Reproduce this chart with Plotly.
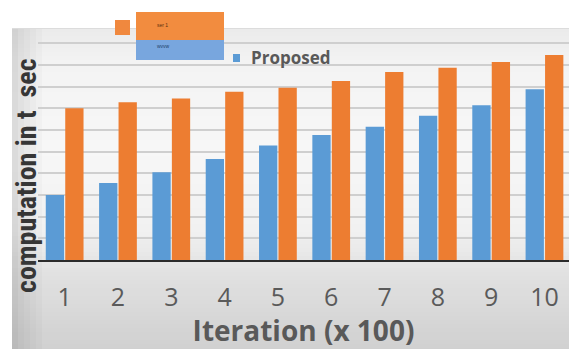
import plotly.graph_objects as go

# Iteration groups (x 100) and computation time per method
iterations = ["1", "2", "3", "4", "5", "6", "7", "8", "9", "10"]
proposed = [3.0, 3.55, 4.05, 4.66, 5.29, 5.77, 6.15, 6.66, 7.14, 7.88]
existing = [7.0, 7.28, 7.46, 7.77, 7.95, 8.26, 8.68, 8.88, 9.14, 9.46]

W, H = 569, 349
L, R, T, B = 38, 0, 28, 89
PW, PH = W - L - R, H - T - B


def px_x(x):
    return (x - L) / PW


def px_y(y):
    return (H - B - y) / PH


def lerp_color(stops, y):
    for (y0, c0), (y1, c1) in zip(stops, stops[1:]):
        if y0 <= y <= y1:
            t = (y - y0) / (y1 - y0)
            return tuple(round(a + (b - a) * t) for a, b in zip(c0, c1))
    return stops[-1][1]


fig = go.Figure()

fig.add_trace(go.Bar(x=iterations, y=proposed, name="Proposed",
                     marker=dict(color="#5B9BD5", line=dict(width=0))))
fig.add_trace(go.Bar(x=iterations, y=existing, name="ser 1",
                     marker=dict(color="#ED7D31", line=dict(width=0))))

shapes = []
# soft vertical gradient behind the chart
stops = [(28, (234, 234, 234)), (60, (243, 243, 243)), (150, (247, 247, 247)),
         (230, (241, 241, 241)), (270, (226, 226, 226)), (349, (208, 208, 208))]
step = 4
y = 28
while y < H:
    c = lerp_color(stops, y + step / 2)
    shapes.append(dict(type="rect", xref="paper", yref="paper",
                       x0=px_x(12), x1=px_x(W), y0=px_y(min(y + step, H)), y1=px_y(y),
                       fillcolor="rgb(%d,%d,%d)" % c, line=dict(width=0), layer="below"))
    y += step
# darker left edge
for i, a in enumerate([0.11, 0.08, 0.06, 0.04, 0.02]):
    shapes.append(dict(type="rect", xref="paper", yref="paper",
                       x0=px_x(12 + i * 6), x1=px_x(18 + i * 6), y0=px_y(H), y1=px_y(28),
                       fillcolor="rgba(0,0,0,%g)" % a, line=dict(width=0), layer="below"))
# top edge of the chart panel
shapes.append(dict(type="line", xref="paper", yref="paper",
                   x0=px_x(12), x1=px_x(W), y0=px_y(28.5), y1=px_y(28.5),
                   line=dict(color="#dcdcdc", width=1), layer="below"))

# legend blocks
shapes += [
    dict(type="rect", xref="paper", yref="paper", x0=px_x(115), x1=px_x(130),
         y0=px_y(35), y1=px_y(20), fillcolor="#F0883E", line=dict(width=0)),
    dict(type="rect", xref="paper", yref="paper", x0=px_x(136), x1=px_x(224),
         y0=px_y(40), y1=px_y(12), fillcolor="#F28C3F", line=dict(width=0)),
    dict(type="rect", xref="paper", yref="paper", x0=px_x(136), x1=px_x(224),
         y0=px_y(60), y1=px_y(40), fillcolor="#78A6DE", line=dict(width=0)),
    dict(type="rect", xref="paper", yref="paper", x0=px_x(233), x1=px_x(240),
         y0=px_y(62), y1=px_y(54), fillcolor="#5B9BD5", line=dict(width=0)),
]

annotations = [
    dict(text="computation in t\u00a0\u00a0sec", textangle=-90, xref="paper", yref="paper",
         x=px_x(26), y=px_y(176), showarrow=False, xanchor="center", yanchor="middle",
         font=dict(family="Liberation Sans Narrow, Roboto Condensed, Lato", size=28,
                   color="#363636", weight="bold")),
    dict(text="ser 1", xref="paper", yref="paper", x=px_x(155), y=px_y(25),
         showarrow=False, xanchor="left", yanchor="middle",
         font=dict(family="Liberation Sans", size=5, color="#5a3010")),
    dict(text="wvvw", xref="paper", yref="paper", x=px_x(155), y=px_y(46),
         showarrow=False, xanchor="left", yanchor="middle",
         font=dict(family="Liberation Sans", size=5, color="#20406a")),
    dict(text="Proposed", xref="paper", yref="paper", x=px_x(249), y=px_y(57.5),
         showarrow=False, xanchor="left", yanchor="middle",
         font=dict(family="Open Sans", size=17, color="#595959", weight="bold")),
]

fig.update_layout(
    width=W, height=H,
    margin=dict(l=L, r=R, t=T, b=B, pad=0),
    paper_bgcolor="white",
    plot_bgcolor="rgba(0,0,0,0)",
    showlegend=False,
    barmode="group",
    bargap=0.27,
    bargroupgap=0.06,
    shapes=shapes,
    annotations=annotations,
    xaxis=dict(
        range=[-0.5, 9.46],
        showgrid=False,
        showline=True, linecolor="#2b2b2b", linewidth=2,
        ticks="", ticklabelstandoff=14,
        tickfont=dict(family="Open Sans", size=25, color="#5a5a5a"),
        title=dict(text="Iteration (x 100)", standoff=14,
                   font=dict(family="Open Sans", size=28, color="#595959", weight="bold")),
        fixedrange=True,
    ),
    yaxis=dict(
        range=[0, 10.71],
        dtick=1, tick0=0,
        showgrid=True, gridcolor="#cfcfcf", gridwidth=1.5,
        zeroline=False,
        showticklabels=False, ticks="",
        showline=False,
        fixedrange=True,
    ),
)

fig.write_html("out.html")
